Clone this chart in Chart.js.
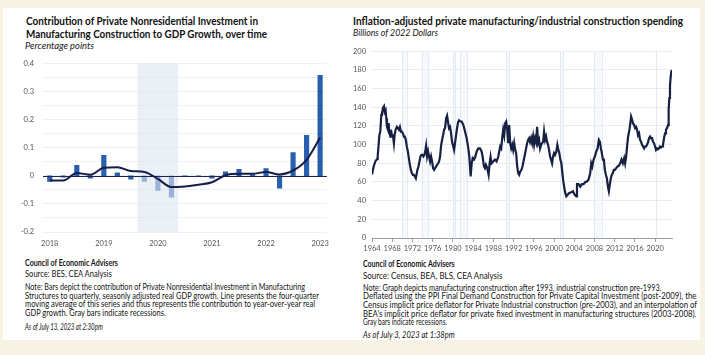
<!DOCTYPE html>
<html><head><meta charset="utf-8">
<script src="https://cdn.jsdelivr.net/npm/chart.js@4.4.1/dist/chart.umd.min.js"></script>
<style>
html,body{margin:0;padding:0;}
body{width:705px;height:355px;background:#f6f2e4;position:relative;overflow:hidden;font-family:Lato,"Open Sans",sans-serif;color:#151515;}
#panel{position:absolute;left:3px;top:8px;width:697px;height:332px;background:#fff;}
.t{position:absolute;white-space:nowrap;transform-origin:0 50%;line-height:12px;height:12px;}
.h{font-weight:700;font-size:11px;color:#111;}
.s{font-style:italic;font-size:9px;}
.b{font-size:9px;}
.bb{font-size:9px;font-weight:700;}
.i{font-size:9px;font-style:italic;}
.cv{position:absolute;}
</style></head>
<body>
<div id="panel"></div>

<div class="t h" style="left:26px;top:15px" data-w="232">Contribution of Private Nonresidential Investment in</div>
<div class="t h" style="left:26px;top:28px" data-w="241">Manufacturing Construction to GDP Growth, over time</div>
<div class="t s" style="left:25px;top:39.7px" data-w="69">Percentage points</div>
<div class="t bb" style="left:25px;top:257.3px" data-w="93">Council of Economic Advisers</div>
<div class="t b" style="left:25px;top:268.3px" data-w="86.7">Source: BES, CEA Analysis</div>
<div class="t b" style="left:25px;top:281.3px" data-w="280">Note: Bars depict the contribution of Private Nonresidential Investment in Manufacturing</div>
<div class="t b" style="left:25px;top:289.7px" data-w="294">Structures to quarterly, seasonly adjusted real GDP growth. Line presents the four-quarter</div>
<div class="t b" style="left:25px;top:298px" data-w="290">moving average of this series and thus represents the contribution to year-over-year real</div>
<div class="t b" style="left:25px;top:307.3px" data-w="140.7">GDP growth. Gray bars indicate recessions.</div>
<div class="t i" style="left:25px;top:320.7px" data-w="77.7">As of July 13, 2023 at 2:30pm</div>

<div class="t h" style="left:353px;top:14.7px" data-w="330">Inflation-adjusted private manufacturing/industrial construction spending</div>
<div class="t s" style="left:353px;top:27.3px" data-w="85">Billions of 2022 Dollars</div>
<div class="t bb" style="left:363.3px;top:258.3px" data-w="91.7">Council of Economic Advisers</div>
<div class="t b" style="left:363.3px;top:269.7px" data-w="139.4">Source: Census, BEA, BLS, CEA Analysis</div>
<div class="t b" style="left:363.3px;top:282.3px" data-w="298.4">Note: Graph depicts manufacturing construction after 1993, industrial construction pre-1993.</div>
<div class="t b" style="left:363.3px;top:290.3px" data-w="333.4">Deflated using the PPI Final Demand Construction for Private Capital Investment (post-2009), the</div>
<div class="t b" style="left:363.3px;top:299px" data-w="334">Census implicit price deflator for Private Industrial construction (pre-2003), and an interpolation of</div>
<div class="t b" style="left:363.3px;top:308px" data-w="333.4">BEA's implicit price deflator for private fixed investment in manufacturing structures (2003-2008).</div>
<div class="t b" style="left:363.3px;top:316.3px" data-w="84">Gray bars indicate recessions.</div>
<div class="t i" style="left:363.3px;top:329.3px" data-w="91.7">As of July 3, 2023 at 1:38pm</div>

<div class="cv" style="left:14px;top:50px;width:322px;height:202px"><canvas id="c1" width="322" height="202"></canvas></div>
<div class="cv" style="left:340px;top:40px;width:340px;height:220px"><canvas id="c2" width="340" height="220"></canvas></div>

<script>
// ---------- Left chart data ----------
const quarters = ['2018 Q1','2018 Q2','2018 Q3','2018 Q4','2019 Q1','2019 Q2','2019 Q3','2019 Q4',
  '2020 Q1','2020 Q2','2020 Q3','2020 Q4','2021 Q1','2021 Q2','2021 Q3','2021 Q4',
  '2022 Q1','2022 Q2','2022 Q3','2022 Q4','2023 Q1'];
const barValues = [-0.02,-0.005,0.037,-0.008,0.073,0.011,-0.012,-0.02,
  -0.052,-0.076,0,0,-0.008,0.014,0.023,0.004,
  0.026,-0.044,0.083,0.144,0.358];
const movingAvg = [-0.017,-0.017,0.01,0.004,0.029,0.031,0.017,0.014,
  -0.011,-0.04,-0.038,-0.032,-0.023,0.002,0.007,0.007,
  0.014,0.005,0.019,0.057,0.136];
const leftRecession = ['2019 Q4','2020 Q2'];

// ---------- Right chart data ----------
const spendYears = [
 1964.00,1964.33,1964.66,1964.99,1965.12,1965.31,1965.45,1965.64,1965.84,1965.97,
 1966.16,1966.37,1966.50,1966.69,1966.83,1966.96,1967.15,1967.29,1967.42,1967.62,
 1967.75,1967.94,1968.14,1968.33,1968.46,1968.66,1968.92,1969.12,1969.32,1969.52,
 1969.72,1969.91,1970.11,1970.31,1970.50,1970.70,1970.89,1971.09,1971.29,1971.49,
 1971.68,1971.88,1972.08,1972.27,1972.47,1972.67,1972.80,1972.99,1973.19,1973.39,
 1973.58,1973.78,1973.98,1974.18,1974.37,1974.57,1974.70,1974.90,1975.10,1975.29,
 1975.49,1975.69,1975.88,1976.08,1976.28,1976.48,1976.67,1976.87,1977.07,1977.27,
 1977.46,1977.66,1977.86,1978.06,1978.25,1978.45,1978.65,1978.85,1979.04,1979.24,
 1979.44,1979.64,1979.83,1980.03,1980.23,1980.42,1980.62,1980.82,1981.02,1981.21,
 1981.41,1981.74,1982.07,1982.40,1982.72,1983.05,1983.25,1983.51,1983.71,1983.91,
 1984.17,1984.43,1984.70,1985.02,1985.35,1985.68,1985.88,1986.14,1986.34,1986.53,
 1986.80,1987.06,1987.26,1987.45,1987.65,1987.98,1988.31,1988.64,1988.97,1989.16,
 1989.36,1989.56,1989.75,1989.95,1990.15,1990.35,1990.54,1990.74,1990.94,1991.13,
 1991.33,1991.53,1991.73,1991.92,1992.12,1992.32,1992.51,1992.71,1992.91,1993.11,
 1993.30,1993.56,1993.76,1993.96,1994.22,1994.42,1994.68,1994.88,1995.08,1995.27,
 1995.47,1995.67,1995.86,1996.06,1996.26,1996.46,1996.65,1996.85,1997.05,1997.24,
 1997.44,1997.64,1997.84,1998.03,1998.23,1998.43,1998.62,1998.82,1999.02,1999.22,
 1999.41,1999.61,1999.81,2000.00,2000.20,2000.46,2000.66,2000.86,2001.05,2001.25,
 2001.45,2001.65,2001.84,2002.04,2002.24,2002.43,2002.70,2002.96,2003.40,2003.75,
 2004.08,2004.40,2004.54,2004.86,2005.19,2005.52,2005.85,2006.18,2006.51,2006.84,
 2007.16,2007.36,2007.56,2007.82,2008.08,2008.35,2008.61,2008.87,2009.07,2009.27,
 2009.46,2009.66,2009.86,2010.05,2010.25,2010.45,2010.65,2010.84,2011.04,2011.24,
 2011.43,2011.63,2011.83,2012.03,2012.29,2012.55,2012.81,2013.08,2013.34,2013.60,
 2013.87,2014.06,2014.26,2014.46,2014.65,2014.85,2015.05,2015.24,2015.44,2015.64,
 2015.84,2016.03,2016.23,2016.43,2016.62,2016.82,2017.02,2017.22,2017.41,2017.61,
 2017.81,2018.00,2018.20,2018.40,2018.60,2018.79,2018.99,2019.19,2019.38,2019.58,
 2019.78,2019.98,2020.17,2020.37,2020.57,2020.76,2020.96,2021.16,2021.36,2021.55,
 2021.75,2021.95,2022.14,2022.34,2022.54,2022.67,2022.80,2022.93,2023.06,2023.19,
 2023.33];
const spendValues = [
 68,76.6,82,84.5,87,100,110,114,132,133.6,
 139,141,135,137,128,119,116,123,114,108.7,
 116,110,110,101.6,110,116,119,117.6,116,119,
 114,114,112,108.7,108.7,105,98,92.7,85.5,78.4,
 73,69.5,67.7,67.7,66,64,67.7,73,76.6,82,
 87.3,89,89,87.3,89,94.4,98.9,87.3,92.7,87.3,
 82,87.3,82,74.8,73,74.8,76.6,78.4,80,82,
 87.3,98.9,105,110,116,117.6,128,131,124,117.6,
 119,112,103,98.9,94.4,101.6,110,117.6,124,126,
 125,124.7,121,114,107,96,87,66,80,85.5,
 84,87,92.7,96,96,92.7,87,76.6,74.8,78.4,
 74.8,67.7,80,87,80,82,84,82,87,92.7,
 98,96,107,116,110,123,124.7,116,101.6,121,
 101.6,96,99.8,94.4,101.6,94.4,90.9,76.6,69.5,67.7,
 71,73,76.6,82,89,94.4,101.6,105,107,103,
 107,101.6,108.7,99.8,107,103,119,101.6,105,96,
 99.8,101.6,103,114,105,108.7,103,99.8,94.4,87.3,
 84,80,87.3,90.9,89,92.7,99.8,94.4,90.9,84,
 80,69.5,60.6,53.5,48,44.6,46.3,48,49,50,
 46.3,44.6,57.7,57.7,55,57.7,57.7,60,60.6,62.7,
 69.5,80,76.6,84,87.3,92.7,96,105,103,96,
 90.9,84,84,73,67.7,64,55,50,57.7,64,
 67.7,69.5,73,73,74.8,76.6,77.3,80,84,80,
 85.5,80,87.3,98.9,108.7,114,121,130,126.5,122.7,
 121,117.6,119,116,110,112,105,103,99.8,98,
 96,98,98,99.8,103,107,108.7,107,107,103,
 101.6,98,94.4,96,95,96,98,97,98,99.8,
 107,112,116,117.6,121,138,150,163,172,178,
 180];
const recessions = [[1969.92,1970.83],[1973.83,1975.17],[1980.0,1980.5],[1981.5,1982.83],
  [1990.5,1991.17],[2001.17,2001.83],[2007.92,2009.42],[2020.08,2020.25]];
const yearTicks = [1964,1968,1972,1976,1980,1984,1988,1992,1996,2000,2004,2008,2012,2016,2020];

// ---------- text fitting ----------
function fitText(){
  document.querySelectorAll('.t').forEach(el=>{
    el.style.transform='none';
    const w = el.getBoundingClientRect().width;
    const target = parseFloat(el.dataset.w);
    if (w>0) el.style.transform = 'scaleX(' + (target/w) + ')';
  });
}
fitText();
if (document.fonts && document.fonts.ready) document.fonts.ready.then(fitText);

const tickFont = {family:'Lato, "Open Sans", sans-serif', size:7.5};

// ---------- Left chart ----------
const leftBand = {
  id:'leftBand',
  beforeDatasetDraw(chart, args){
    if (args.meta.type !== 'line') return;
    const xs = chart.scales.x, ys = chart.scales.y, a = chart.chartArea, ctx = chart.ctx;
    const i0 = quarters.indexOf(leftRecession[0]), i1 = quarters.indexOf(leftRecession[1]);
    const x0 = xs.getPixelForValue(i0 - 0.5), x1 = xs.getPixelForValue(i1 + 0.5);
    ctx.save();
    ctx.fillStyle = 'rgba(222,230,242,0.62)';
    ctx.fillRect(x0, a.top, x1 - x0, a.bottom - a.top);
    const y0 = Math.round(ys.getPixelForValue(0)) + 0.5;
    ctx.strokeStyle = '#1d2452'; ctx.lineWidth = 1;
    ctx.beginPath(); ctx.moveTo(a.left, y0); ctx.lineTo(a.right, y0); ctx.stroke();
    ctx.restore();
  }
};

new Chart(document.getElementById('c1'), {
  type:'bar',
  data:{
    labels: quarters,
    datasets:[
      {type:'line', data: movingAvg, borderColor:'#171c48', borderWidth:2, pointRadius:0,
       cubicInterpolationMode:'monotone', order:0, fill:false},
      {type:'bar', data: barValues, backgroundColor:'#2a5fae', barThickness:4.5, order:1}
    ]
  },
  options:{
    responsive:false, animation:false, devicePixelRatio:1,
    layout:{padding:{top:13.3,right:8,left:0,bottom:0}},
    plugins:{legend:{display:false}, tooltip:{enabled:false}},
    scales:{
      x:{type:'category', offset:true,
         grid:{display:false, drawTicks:false}, border:{display:false},
         ticks:{autoSkip:false, maxRotation:0, padding:7, color:'#555', font:tickFont,
           callback:(v,i)=> quarters[i].endsWith('Q1') ? quarters[i].slice(0,4) : ''},
         afterFit:(s)=>{s.height=20;}},
      y:{min:-0.2, max:0.4,
         grid:{drawTicks:false, color:(c)=> c.tick && c.tick.value===0 ? '#1d2452' : '#edf0f4'},
         border:{display:false},
         ticks:{stepSize:0.05, padding:9, color:'#555', font:tickFont,
           callback:(v)=> (Math.abs(Math.round(v*100)) % 10 === 0) ? String(Math.round(v*10)/10) : ''},
         afterFit:(s)=>{s.width=29;}}
    }
  },
  plugins:[leftBand]
});

// ---------- Right chart ----------
const recBands = {
  id:'recBands',
  beforeDatasetsDraw(chart){
    const xs = chart.scales.x, a = chart.chartArea, ctx = chart.ctx;
    ctx.save();
    recessions.forEach(r=>{
      const x0 = xs.getPixelForValue(r[0]), x1 = xs.getPixelForValue(r[1]);
      ctx.fillStyle = 'rgba(242,245,250,0.7)';
      ctx.fillRect(x0, a.top, x1 - x0, a.bottom - a.top);
      ctx.strokeStyle = 'rgba(226,233,243,0.9)'; ctx.lineWidth = 1;
      ctx.beginPath();
      ctx.moveTo(Math.round(x0)+0.5, a.top); ctx.lineTo(Math.round(x0)+0.5, a.bottom);
      ctx.moveTo(Math.round(x1)+0.5, a.top); ctx.lineTo(Math.round(x1)+0.5, a.bottom);
      ctx.stroke();
    });
    ctx.restore();
  }
};

new Chart(document.getElementById('c2'), {
  type:'line',
  data:{
    datasets:[{data: spendYears.map((x,i)=>({x:x, y:spendValues[i]})),
      borderColor:'#152042', borderWidth:2.2, pointRadius:0, tension:0, fill:false}]
  },
  options:{
    responsive:false, animation:false, devicePixelRatio:1,
    layout:{padding:{top:11.3,right:8,left:0,bottom:0}},
    plugins:{legend:{display:false}, tooltip:{enabled:false}},
    scales:{
      x:{type:'linear', min:1964, max:2023.33,
         grid:{drawOnChartArea:false, drawTicks:true, tickLength:4, color:'#9aa0a8'},
         border:{display:true, color:'#9aa0a8'},
         afterBuildTicks:(s)=>{ s.ticks = yearTicks.map(v=>({value:v})); },
         ticks:{maxRotation:0, autoSkip:false, padding:2, color:'#555', font:tickFont,
           callback:(v)=> String(v)},
         afterFit:(s)=>{s.height=22;}},
      y:{min:0, max:200,
         grid:{drawTicks:false, color:'#e8ecf1'},
         border:{display:false},
         ticks:{stepSize:20, padding:6, color:'#555', font:tickFont},
         afterFit:(s)=>{s.width=32;}}
    }
  },
  plugins:[recBands]
});
</script>
</body></html>
